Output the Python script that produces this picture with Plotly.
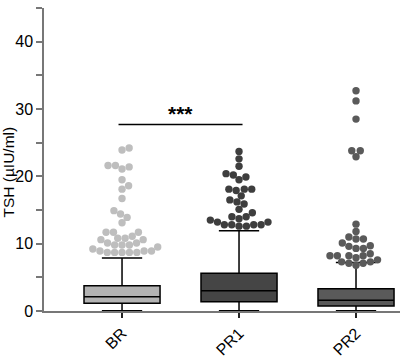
import numpy as np
import plotly.graph_objects as go

categories = ["BR", "PR1", "PR2"]
q1 = [1.14, 1.38, 0.74]
medians = [2.13, 3.0, 1.6]
q3 = [3.76, 5.6, 3.3]
lower = [0.02, 0.02, 0.02]
upper = [7.87, 11.9, 7.2]

br_out = [24.2, 23.9, 21.6, 21.6, 21.4, 21.1, 19.5, 18.6, 18.1, 16.7, 14.9, 14.4,
          13.9, 13.1, 11.7, 11.7, 11.7, 11.1, 10.8, 10.8, 10.6, 10.6, 10.1, 10.1,
          9.8, 9.8, 9.8, 9.5, 9.2, 8.9, 8.9, 8.9, 8.7, 8.7, 8.7, 8.7, 8.7]
pr1_out = [23.7, 22.6, 21.5, 20.4, 20.2, 19.9, 19.5, 18.1, 18.1, 18.1, 17.9, 17.1,
           16.5, 16.2, 15.9, 15.1, 14.6, 14.0, 14.0, 13.7, 13.5, 13.2, 13.2, 12.8,
           12.8, 12.8, 12.8, 12.6, 12.6]
pr2_out = [32.7, 31.2, 28.5, 23.8, 23.8, 22.9, 12.9, 11.8, 11.0, 10.7, 10.7, 10.1,
           9.7, 9.6, 9.3, 9.3, 8.5, 8.2, 8.2, 8.2, 8.2, 7.9, 7.6, 7.3, 7.3, 7.1, 7.1, 6.8]
outliers = [br_out, pr1_out, pr2_out]

box_fill = ["#b3b3b3", "#454545", "#5a5a5a"]
point_col = ["#bebebe", "#3e3e3e", "#5a5a5a"]

sig_value = 27.7
sig_text = "***"
y_title = "TSH (µIU/ml)"

# plotting geometry (pixels) used only for the swarm layout
PX_PER_X = 117.0
PX_PER_Y = 6.73
DIAM = 7.4


def swarm(values):
    order = np.argsort(values, kind="stable")
    placed = []
    res = [0.0] * len(values)
    for i in order:
        y = values[i] * PX_PER_Y
        cands = [0.0]
        for (px, py) in placed:
            dy = y - py
            if abs(dy) < DIAM:
                dx = np.sqrt(DIAM ** 2 - dy ** 2)
                cands += [px + dx, px - dx]
        cands.sort(key=abs)
        best = 0.0
        for c in cands:
            if all((c - px) ** 2 + (y - py) ** 2 >= DIAM ** 2 - 1e-6 for px, py in placed):
                best = c
                break
        placed.append((best, y))
        res[i] = best / PX_PER_X
    return res


fig = go.Figure()
for k, cat in enumerate(categories):
    fig.add_trace(go.Box(
        x=[k], q1=[q1[k]], median=[medians[k]], q3=[q3[k]],
        lowerfence=[lower[k]], upperfence=[upper[k]],
        width=0.65, whiskerwidth=0.53,
        fillcolor=box_fill[k], line=dict(color="black", width=1.5),
        boxpoints=False, hoverinfo="skip", name=cat,
    ))
    offs = swarm(outliers[k])
    fig.add_trace(go.Scatter(
        x=[k + o for o in offs], y=outliers[k], mode="markers",
        marker=dict(size=DIAM, color=point_col[k], line=dict(width=0)),
        name=cat, hoverinfo="y",
    ))

fig.add_shape(type="line", xref="x", yref="y", x0=-0.03, x1=1.03,
              y0=sig_value, y1=sig_value, line=dict(color="black", width=1.5))
fig.add_annotation(x=0.5, y=sig_value, xref="x", yref="y", text="<b>" + sig_text + "</b>",
                   showarrow=False, yanchor="middle", yshift=11,
                   font=dict(size=21, color="black"))
fig.add_annotation(x=-0.101, y=0.457, xref="paper", yref="paper", text=y_title,
                   textangle=-90, showarrow=False, xanchor="center", yanchor="middle",
                   font=dict(size=15.5, color="black"))

fig.update_layout(
    width=400, height=363,
    margin=dict(l=44, r=0, t=8, b=52),
    plot_bgcolor="white", paper_bgcolor="white",
    showlegend=False,
    font=dict(family="Liberation Sans, Arial, sans-serif", color="black"),
)
fig.update_xaxes(
    range=[-0.667, 2.376], tickvals=[0, 1, 2], ticktext=categories,
    tickangle=-45, ticks="outside", ticklen=5, tickwidth=1.5, tickcolor="#222",
    showline=True, linecolor="#777", linewidth=1.5,
    showgrid=False, zeroline=False, tickfont=dict(size=16, color="black"),
    automargin=False,
)
fig.update_yaxes(
    range=[0, 45], tick0=0, dtick=10, ticks="outside", ticklen=6, tickwidth=1.5,
    tickcolor="#777",
    minor=dict(ticks="outside", ticklen=6, dtick=5, tick0=0, tickwidth=1.5, tickcolor="#777"),
    showline=True, linecolor="#777", linewidth=1.5,
    showgrid=False, zeroline=False, tickfont=dict(size=16, color="black"),
    automargin=False,
)

fig.write_html("out.html", config={"displayModeBar": False},
               post_script="document.body.style.margin='0';")
